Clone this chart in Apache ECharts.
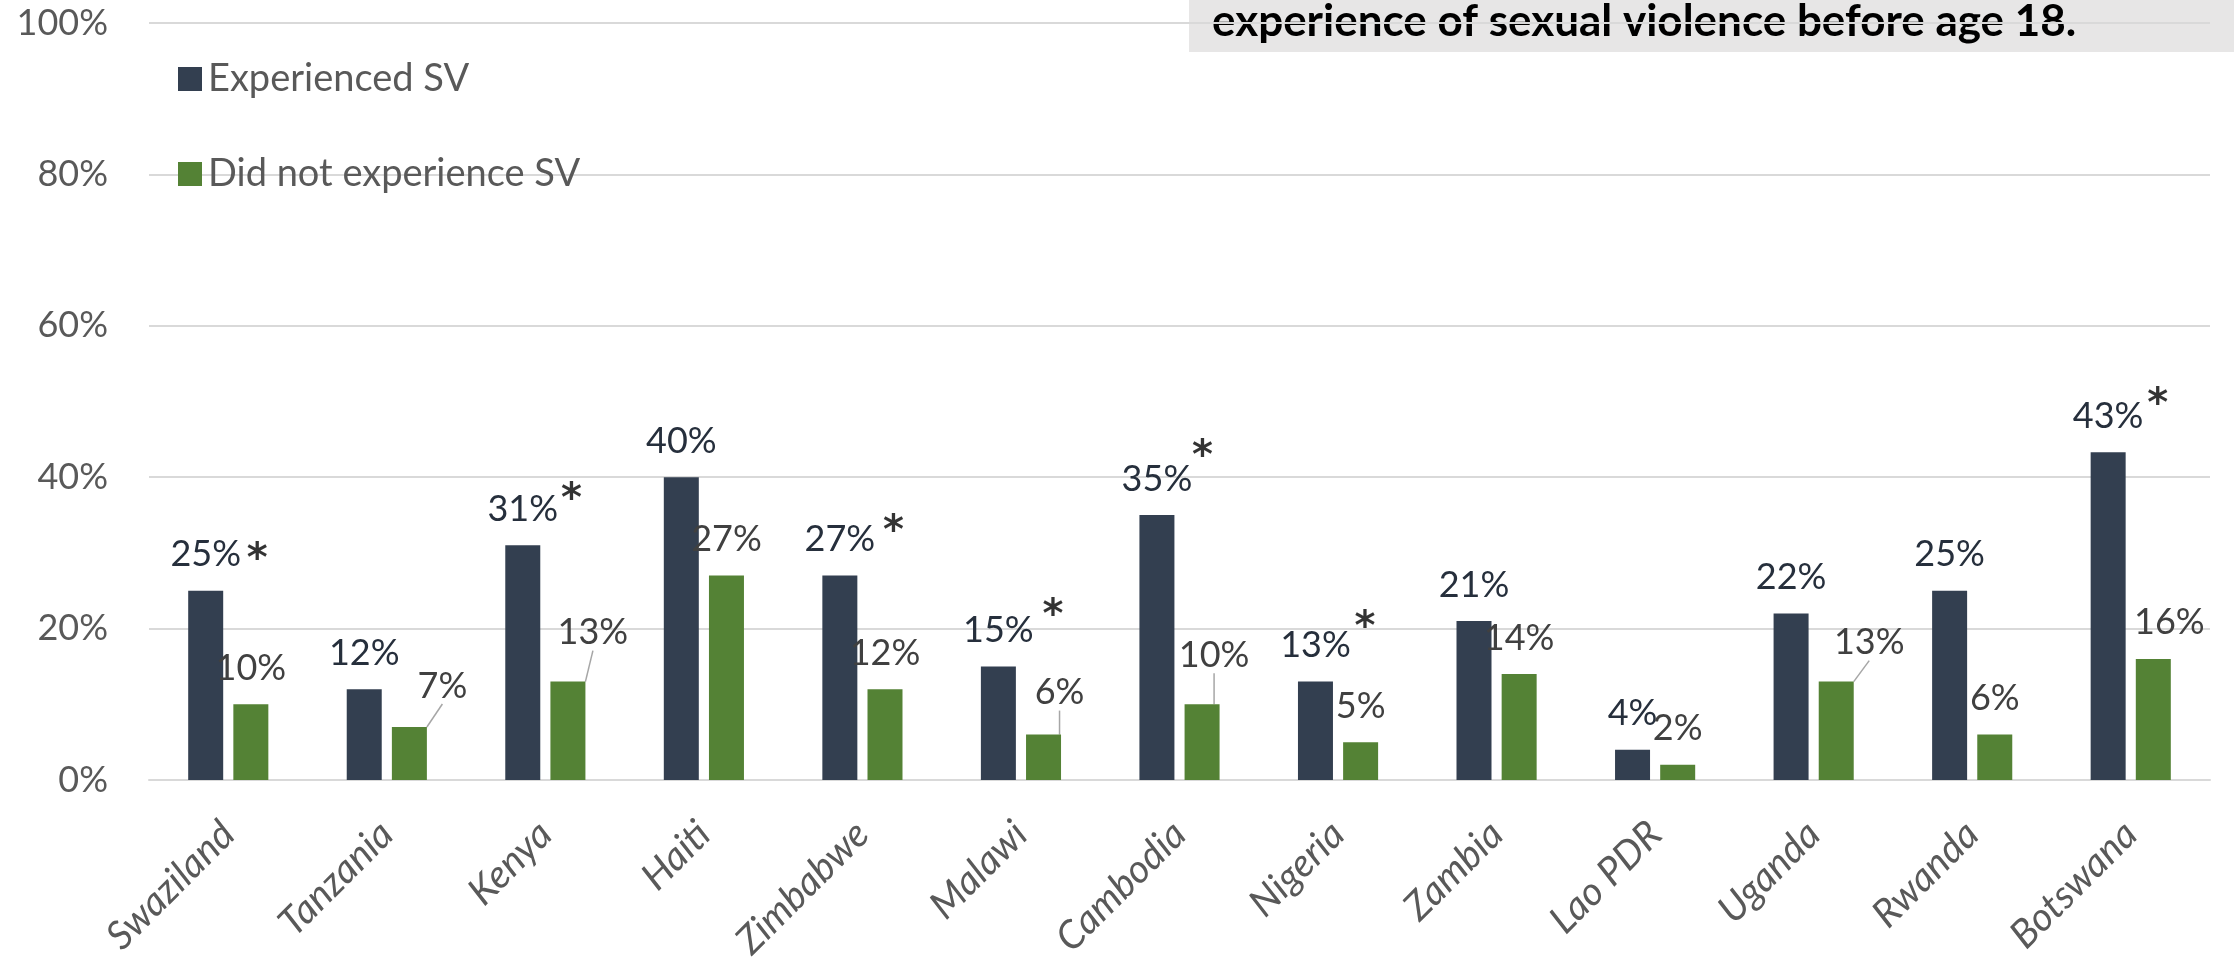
<!DOCTYPE html>
<html>
<head>
<meta charset="utf-8">
<script src="https://cdn.jsdelivr.net/npm/echarts@6/dist/echarts.min.js"></script>
<style>
  html, body { margin: 0; padding: 0; background: #ffffff; }
  #chart { width: 2234px; height: 957px; }
</style>
</head>
<body>
<div id="chart"></div>
<script>
// ---- data ----
const categories = ['Swaziland', 'Tanzania', 'Kenya', 'Haiti', 'Zimbabwe', 'Malawi', 'Cambodia',
  'Nigeria', 'Zambia', 'Lao PDR', 'Uganda', 'Rwanda', 'Botswana'];
const experiencedSV = [25, 12, 31, 40, 27, 15, 35, 13, 21, 4, 22, 25, 43.3];
const didNotExperienceSV = [10, 7, 13, 27, 12, 6, 10, 5, 14, 2, 13, 6, 16];
const significant = [true, false, true, false, true, true, true, true, false, false, false, false, true];
const seriesNames = ['Experienced SV', 'Did not experience SV'];
const titleLine = 'experience of sexual violence before age 18.';

// ---- layout adjustments (label nudges, in px) ----
const greenLabelNudge = { 1: [33, -5], 2: [25, -13], 5: [16, -6], 6: [12, -13], 10: [33, -3], 12: [16, 0] };
const leaderLineIdx = [1, 2, 5, 6, 10];
const starNudge = { 0: [29, -30], 2: [26, -45], 4: [31, -43], 5: [32, -50], 6: [23, -57], 7: [27, -53], 12: [27, -47] };

const FONT = 'Lato, "Open Sans", sans-serif';
const chart = echarts.init(document.getElementById('chart'), null, { renderer: 'canvas' });

const pct = p => Math.round(p.value) + '%';

const option = {
  animation: false,
  backgroundColor: '#ffffff',
  grid: { left: 149, right: 24, top: 23, bottom: 177, containLabel: false, outerBoundsMode: 'none' },
  legend: {
    data: seriesNames,
    orient: 'vertical',
    left: 173,
    top: 55,
    itemGap: 57,
    itemWidth: 24,
    itemHeight: 24,
    icon: 'rect',
    textStyle: { fontFamily: FONT, fontSize: 38, color: '#595959', padding: [0, 0, 0, 1] }
  },
  xAxis: {
    type: 'category',
    data: categories,
    axisLine: { show: true, lineStyle: { color: '#d9d9d9', width: 2 } },
    axisTick: { show: false },
    axisLabel: {
      interval: 0, rotate: 45, margin: 48,
      fontFamily: FONT, fontSize: 39, fontStyle: 'italic', color: '#595959'
    }
  },
  yAxis: {
    type: 'value',
    min: 0, max: 100, interval: 20,
    axisLine: { show: false },
    axisTick: { show: false },
    splitLine: { lineStyle: { color: '#d9d9d9', width: 2 } },
    axisLabel: { formatter: '{value}%', margin: 41, fontFamily: FONT, fontSize: 36, color: '#595959' }
  },
  series: [
    {
      name: seriesNames[0],
      type: 'bar',
      data: experiencedSV,
      barWidth: 35,
      barGap: '29%',
      itemStyle: { color: '#333f50' },
      label: {
        show: true, position: 'top', distance: 18, formatter: pct,
        fontFamily: FONT, fontSize: 36, color: '#262f3c'
      }
    },
    {
      name: seriesNames[1],
      type: 'bar',
      data: didNotExperienceSV.map((v, i) => ({
        value: v,
        labelLine: { show: leaderLineIdx.includes(i) }
      })),
      barWidth: 35,
      barGap: '29%',
      itemStyle: { color: '#548235' },
      label: {
        show: true, position: 'top', distance: 18, formatter: pct,
        fontFamily: FONT, fontSize: 36, color: '#404040'
      },
      labelLine: { show: false, lineStyle: { color: '#a6a6a6', width: 1.5 } },
      labelLayout: function (params) {
        const n = greenLabelNudge[params.dataIndex];
        return n ? { dx: n[0], dy: n[1] } : {};
      }
    },
    {
      name: 'significance',
      type: 'scatter',
      symbol: 'circle',
      symbolSize: 2,
      itemStyle: { color: 'rgba(0,0,0,0)' },
      silent: true,
      data: experiencedSV.map((v, i) => significant[i] ? {
        value: v,
        label: { offset: starNudge[i] }
      } : '-'),
      label: {
        show: true, position: 'inside', formatter: '*',
        fontFamily: '"DejaVu Sans", sans-serif', fontSize: 40, fontWeight: 'bold', color: '#000000'
      },
      z: 5
    }
  ],
  graphic: [
    {
      type: 'group',
      children: [
        { type: 'rect', shape: { x: 1189, y: 0, width: 1045, height: 52 }, style: { fill: '#e7e6e6' } },
        {
          type: 'text', x: 1212, y: 22,
          style: { text: titleLine, fontFamily: FONT, fontSize: 44, fontWeight: 'bold', fill: '#000000', verticalAlign: 'middle', align: 'left' }
        }
      ]
    }
  ]
};
chart.setOption(option);
</script>
</body>
</html>
